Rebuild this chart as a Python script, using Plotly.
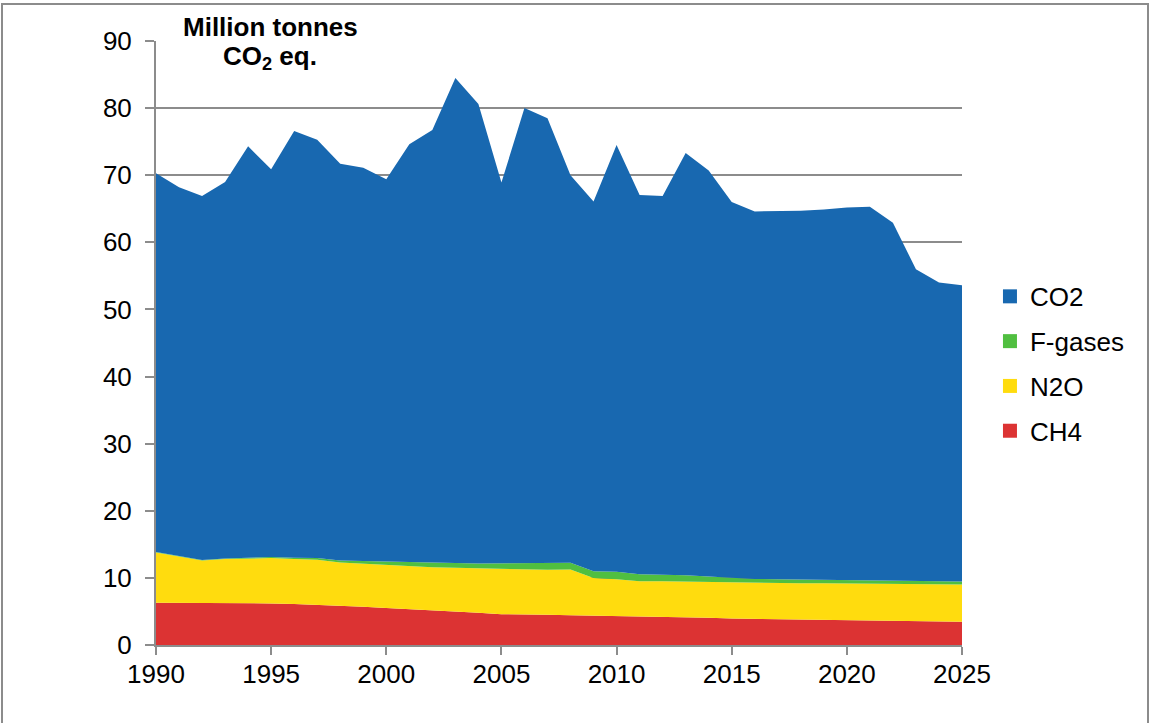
import plotly.graph_objects as go

years = list(range(1990, 2026))

ch4 = [6.3, 6.3, 6.3, 6.3, 6.25, 6.2, 6.1, 6.0, 5.85, 5.7, 5.5, 5.35, 5.2, 5.0, 4.8, 4.6, 4.6, 4.5,
       4.45, 4.4, 4.35, 4.25, 4.2, 4.15, 4.05, 3.95, 3.9, 3.85, 3.8, 3.75, 3.7, 3.65, 3.6, 3.55, 3.5, 3.45]
n2o = [7.5, 6.9, 6.3, 6.5, 6.65, 6.75, 6.7, 6.7, 6.45, 6.4, 6.5, 6.45, 6.4, 6.5, 6.6, 6.7, 6.65, 6.7,
       6.8, 5.6, 5.45, 5.25, 5.3, 5.3, 5.3, 5.3, 5.3, 5.35, 5.4, 5.45, 5.45, 5.45, 5.5, 5.5, 5.5, 5.55]
fgases = [0.05, 0.05, 0.07, 0.1, 0.12, 0.15, 0.2, 0.25, 0.3, 0.4, 0.45, 0.55, 0.6, 0.7, 0.75, 0.85, 0.9, 0.95,
          1.0, 1.0, 1.1, 1.05, 1.0, 0.95, 0.85, 0.75, 0.65, 0.6, 0.55, 0.5, 0.45, 0.45, 0.45, 0.45, 0.45, 0.45]
co2 = [56.45, 54.95, 54.23, 56.1, 61.28, 57.8, 63.6, 62.35, 59.1, 58.6, 56.95, 62.25, 64.55, 72.3, 68.45,
       56.75, 67.85, 66.35, 57.75, 55.1, 63.6, 56.5, 56.4, 62.9, 60.5, 56.0, 54.75, 54.8, 54.95, 55.2, 55.6,
       55.75, 53.35, 46.5, 44.55, 44.15]

series = [
    ("CH4", ch4, "#dc3333", 4),
    ("N2O", n2o, "#ffdc0e", 3),
    ("F-gases", fgases, "#50bf40", 2),
    ("CO2", co2, "#1868b0", 1),
]

FONT = "Liberation Sans, Arial, sans-serif"

fig = go.Figure()
for name, vals, col, rank in series:
    fig.add_trace(go.Scatter(
        x=years, y=vals, name=name, mode="lines", stackgroup="one",
        line=dict(width=0, color=col), fillcolor=col, showlegend=False,
    ))
# legend entries with square symbols
for name, vals, col, rank in series:
    fig.add_trace(go.Scatter(
        x=[None], y=[None], name=name, mode="markers",
        marker=dict(symbol="square", size=14, color=col),
        legendgroup=name, legendrank=rank, showlegend=True,
    ))

axis_font = dict(family=FONT, size=26, color="black")

fig.update_layout(
    width=1155, height=723,
    margin=dict(l=156, r=193, t=41, b=78),
    paper_bgcolor="white", plot_bgcolor="white",
    font=axis_font,
    showlegend=True,
    legend=dict(x=1.0347, y=0.616, xanchor="left", yanchor="top",
                traceorder="grouped", tracegroupgap=8,
                font=dict(family=FONT, size=26, color="black"),
                bgcolor="rgba(0,0,0,0)"),
    xaxis=dict(range=[1990, 2025], tick0=1990, dtick=5, showgrid=False,
               showline=True, linecolor="#8c8c8c", linewidth=2,
               ticks="outside", ticklen=8, tickcolor="#8c8c8c", tickwidth=2,
               tickfont=axis_font, zeroline=False, ticklabelstandoff=-3),
    yaxis=dict(range=[0, 90], dtick=10, showgrid=True, gridcolor="#8c8c8c", gridwidth=2,
               showline=True, linecolor="#8c8c8c", linewidth=2,
               ticks="outside", ticklen=9, tickcolor="#8c8c8c", tickwidth=2,
               tickfont=axis_font, zeroline=False, ticklabelstandoff=8),
    annotations=[
        dict(text="<b>Million tonnes</b>", xref="paper", yref="paper",
             x=(270.5 - 156) / 806, y=(645 - 26.5) / 604, xanchor="center", yanchor="middle",
             showarrow=False, font=dict(family=FONT, size=26, color="black")),
        dict(text="<b>CO<sub>2</sub> eq.</b>", xref="paper", yref="paper",
             x=(270 - 156) / 806, y=(645 - 58) / 604, xanchor="center", yanchor="middle",
             showarrow=False, font=dict(family=FONT, size=26, color="black")),
    ],
    shapes=[
        dict(type="rect", xref="paper", yref="paper",
             x0=(2 - 156) / 806, x1=(1148 - 156) / 806,
             y0=(645 - 740) / 604, y1=(645 - 4) / 604,
             line=dict(color="#8c8c8c", width=2), fillcolor="rgba(0,0,0,0)", layer="below"),
    ],
)

fig.write_html("out.html", config={"displayModeBar": False},
               post_script="document.body.style.margin='0';")
